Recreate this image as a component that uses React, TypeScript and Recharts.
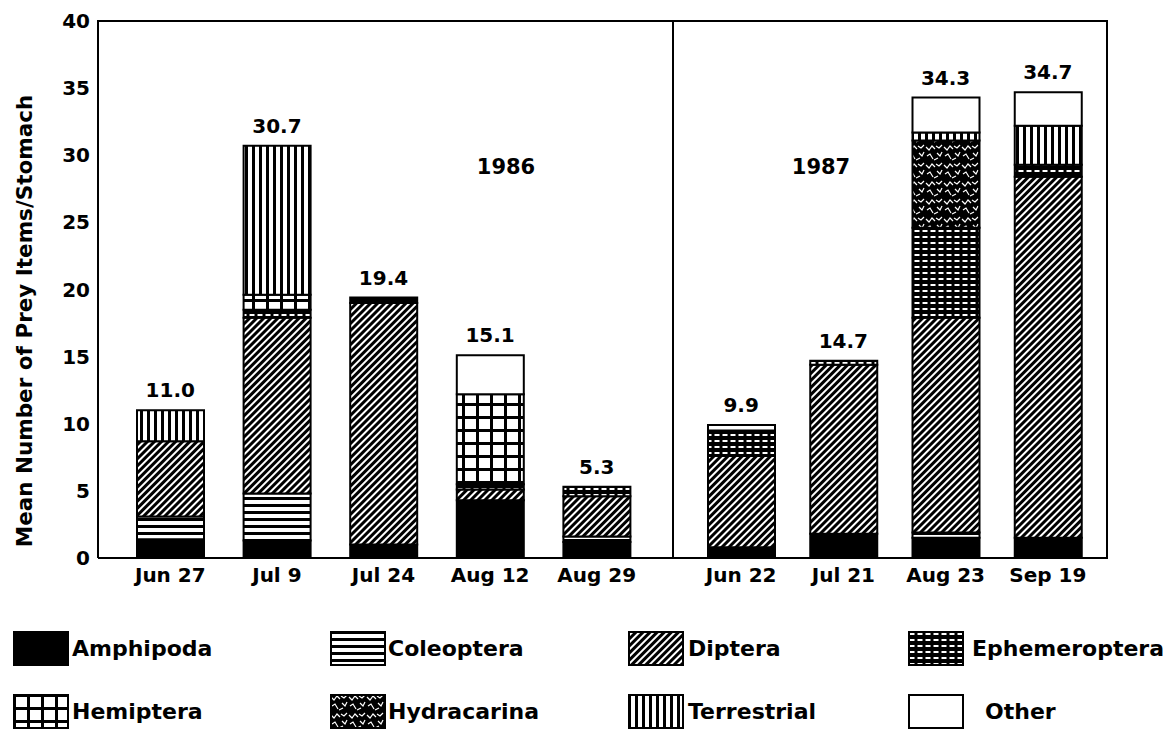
import React from 'react'
import { ComposedChart, Bar, Line, XAxis, YAxis } from 'recharts'

// sampling dates, 1986 then 1987
const dates1986 = ['Jun 27', 'Jul 9', 'Jul 24', 'Aug 12', 'Aug 29']
const dates1987 = ['Jun 22', 'Jul 21', 'Aug 23', 'Sep 19']

// mean prey items per stomach, one value per date (1986 then 1987)
const amphipoda = [1.4, 1.3, 1.0, 4.3, 1.2, 0.8, 1.8, 1.5, 1.5]
const coleoptera = [1.7, 3.5, 0, 0, 0.4, 0, 0, 0.4, 0]
const diptera = [5.6, 13.1, 18.0, 0.8, 3.0, 6.8, 12.6, 16.0, 26.9]
const ephemeroptera = [0, 0.6, 0.4, 0.4, 0.7, 1.9, 0.3, 6.7, 0.9]
const hemiptera = [0, 1.1, 0, 6.7, 0, 0, 0, 0, 0]
const hydracarina = [0, 0, 0, 0, 0, 0, 0, 6.5, 0]
const terrestrial = [2.3, 11.1, 0, 0, 0, 0, 0, 0.6, 2.9]
const other = [0, 0, 0, 2.9, 0, 0.4, 0, 2.6, 2.5]

const totals = ['11.0', '30.7', '19.4', '15.1', '5.3', '9.9', '14.7', '34.3', '34.7']
const yTicks = [0, 5, 10, 15, 20, 25, 30, 35, 40]

const taxa = [
  { key: 'amphipoda', name: 'Amphipoda', values: amphipoda, fill: '#000' },
  { key: 'coleoptera', name: 'Coleoptera', values: coleoptera, fill: 'url(#pat-coleo)' },
  { key: 'diptera', name: 'Diptera', values: diptera, fill: 'url(#pat-dipt)' },
  { key: 'ephemeroptera', name: 'Ephemeroptera', values: ephemeroptera, fill: 'url(#pat-ephem)' },
  { key: 'hemiptera', name: 'Hemiptera', values: hemiptera, fill: 'url(#pat-hemi)' },
  { key: 'hydracarina', name: 'Hydracarina', values: hydracarina, fill: 'url(#pat-hydra)' },
  { key: 'terrestrial', name: 'Terrestrial', values: terrestrial, fill: 'url(#pat-terr)' },
  { key: 'other', name: 'Other', values: other, fill: '#fff' },
]

const FONT = '"DejaVu Sans", sans-serif'

function buildRows(dates: string[], offset: number) {
  return dates.map((date, i) => {
    const row: any = { date, label: totals[offset + i] }
    let top = 0
    taxa.forEach((t) => {
      row[t.key] = t.values[offset + i]
      top += t.values[offset + i]
    })
    row.top = top
    return row
  })
}

const rows1986 = buildRows(dates1986, 0)
const rows1987 = buildRows(dates1987, dates1986.length)

function Patterns() {
  return (
    <svg width={0} height={0} style={{ position: 'absolute' }}>
      <defs>
        <pattern id="pat-coleo" patternUnits="userSpaceOnUse" width={10} height={7}>
          <rect width={10} height={7} fill="#fff" />
          <rect width={10} height={3} fill="#000" />
        </pattern>
        <pattern id="pat-dipt" patternUnits="userSpaceOnUse" width={5} height={5} patternTransform="rotate(45)">
          <rect width={5} height={5} fill="#fff" />
          <rect width={3} height={5} fill="#000" />
        </pattern>
        <pattern id="pat-ephem" patternUnits="userSpaceOnUse" width={8} height={6}>
          <rect width={8} height={6} fill="#000" />
          <rect x={1.5} y={2} width={5} height={2} fill="#fff" />
        </pattern>
        <pattern id="pat-hemi" patternUnits="userSpaceOnUse" width={14} height={13}>
          <rect width={14} height={13} fill="#fff" />
          <rect width={3} height={13} fill="#000" />
          <rect width={14} height={3} fill="#000" />
        </pattern>
        <pattern id="pat-hydra" patternUnits="userSpaceOnUse" width={18} height={18}>
          <rect width={18} height={18} fill="#000" />
          <path
            d="M1 3 L4 6 L7 2 L10 5 M12 9 L15 12 L17 8 M2 12 L5 10 L8 15 M9 16 L13 14 M11 2 L14 4 L17 1"
            stroke="#fff"
            strokeWidth={1.2}
            fill="none"
          />
        </pattern>
        <pattern id="pat-terr" patternUnits="userSpaceOnUse" width={7} height={10}>
          <rect width={7} height={10} fill="#fff" />
          <rect width={3} height={10} fill="#000" />
        </pattern>
      </defs>
    </svg>
  )
}

const tickStyle = { fill: '#000', fontFamily: FONT, fontWeight: 700, fontSize: 20 }
const axisLine = { stroke: '#000', strokeWidth: 2 }

function TotalLabel(props: any) {
  const { x, y, index, data } = props
  return (
    <text x={x} y={y - 13} textAnchor="middle" fill="#000" fontFamily={FONT} fontWeight={700} fontSize={20}>
      {data[index].label}
    </text>
  )
}

function Panel({ rows, width, marginRight, showYTicks, padding }: any) {
  return (
    <ComposedChart
      width={width}
      height={600}
      data={rows}
      margin={{ top: 21, right: marginRight, left: 0, bottom: 12 }}
      barSize={67}
    >
      <XAxis
        dataKey="date"
        height={30}
        padding={padding}
        axisLine={axisLine}
        tickLine={false}
        tickSize={6}
        tickMargin={4}
        tick={tickStyle}
        interval={0}
      />
      <YAxis
        domain={[0, 40]}
        ticks={yTicks}
        width={showYTicks ? 98 : 0}
        hide={!showYTicks}
        tick={tickStyle}
        tickLine={false}
        tickSize={6}
        tickMargin={2}
        axisLine={axisLine}
        interval={0}
      />
      {taxa.map((t) => (
        <Bar
          key={t.key}
          dataKey={t.key}
          stackId="a"
          fill={t.fill}
          stroke="#000"
          strokeWidth={2}
          isAnimationActive={false}
        />
      ))}
      <Line
        dataKey="top"
        stroke="none"
        dot={false}
        activeDot={false}
        isAnimationActive={false}
        label={(p: any) => <TotalLabel {...p} data={rows} />}
      />
    </ComposedChart>
  )
}

function LegendItem({ taxon, left, top, textLeft }: any) {
  return (
    <>
      <svg style={{ position: 'absolute', left, top }} width={56} height={35}>
        <rect x={1} y={1} width={54} height={33} fill={taxon.fill} stroke="#000" strokeWidth={2} />
      </svg>
      <div
        style={{
          position: 'absolute',
          left: textLeft,
          top: top + 17,
          transform: 'translateY(-50%)',
          fontFamily: FONT,
          fontWeight: 700,
          fontSize: 22,
          whiteSpace: 'nowrap',
          color: '#000',
        }}
      >
        {taxon.name}
      </div>
    </>
  )
}

const legendCols = [13, 330, 628, 908]
const legendTextCols = [72, 388, 688, 972]

export default function App() {
  return (
    <div style={{ position: 'absolute', left: 0, top: 0, width: 1171, height: 730, background: '#fff' }}>
      <Patterns />
      <div style={{ position: 'absolute', left: 0, top: 0 }}>
        <Panel rows={rows1986} width={680} marginRight={7} showYTicks padding={{ left: 19, right: 23 }} />
      </div>
      <div style={{ position: 'absolute', left: 673, top: 0 }}>
        <Panel rows={rows1987} width={498} marginRight={64} showYTicks={false} padding={{ left: 17, right: 8 }} />
      </div>
      {/* plot frame: top edge, right edge and the 1986/1987 divider */}
      <div
        style={{
          position: 'absolute',
          left: 97,
          top: 20,
          width: 1009,
          height: 537,
          borderTop: '2px solid #000',
          borderRight: '2px solid #000',
          pointerEvents: 'none',
        }}
      />
      <div style={{ position: 'absolute', left: 672, top: 20, width: 2, height: 539, background: '#000' }} />
      <div
        style={{
          position: 'absolute',
          left: 24,
          top: 321,
          transform: 'translate(-50%, -50%) rotate(-90deg)',
          fontFamily: FONT,
          fontWeight: 700,
          fontSize: 21.5,
          whiteSpace: 'nowrap',
        }}
      >
        Mean Number of Prey Items/Stomach
      </div>
      <div style={{ position: 'absolute', left: 506, top: 167, transform: 'translate(-50%, -50%)', fontFamily: FONT, fontWeight: 700, fontSize: 21 }}>
        1986
      </div>
      <div style={{ position: 'absolute', left: 821, top: 167, transform: 'translate(-50%, -50%)', fontFamily: FONT, fontWeight: 700, fontSize: 21 }}>
        1987
      </div>
      {taxa.map((t, i) => (
        <LegendItem
          key={t.key}
          taxon={t}
          left={legendCols[i % 4]}
          top={i < 4 ? 631 : 694}
          textLeft={t.key === 'other' ? 985 : legendTextCols[i % 4]}
        />
      ))}
    </div>
  )
}
